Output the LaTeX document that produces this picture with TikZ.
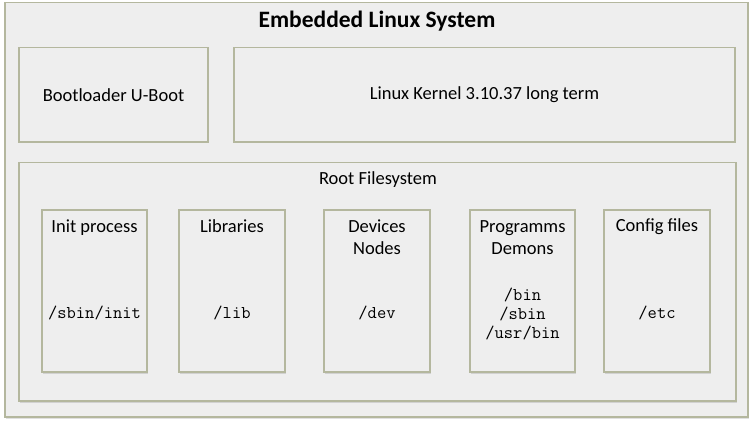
\documentclass[tikz,border=0pt]{standalone}
\usepackage{fontspec}
\setmainfont{Carlito}
\usetikzlibrary{shadows}
\definecolor{boxline}{HTML}{B4B79E}
\definecolor{boxfill}{HTML}{EEEEEE}
\begin{document}
\begin{tikzpicture}[x=1pt,y=-1pt,
  box/.style={draw=boxline,line width=1.6pt,fill=boxfill,rectangle,inner sep=0pt,
    drop shadow={shadow xshift=1.2pt,shadow yshift=-1.5pt,fill=black,opacity=0.12}},
  txt/.style={inner sep=0pt,align=center,font=\fontsize{18.5}{22}\selectfont},
  mono/.style={inner sep=0pt,align=center,font=\fontsize{18}{19}\selectfont\ttfamily}]
\useasboundingbox (0,0) rectangle (755,425);
\fill[white] (0,0) rectangle (755,425);
\node[box,minimum width=743pt,minimum height=414.5pt] (outer) at (376.5,209.75) {};
\node[box,minimum width=189pt,minimum height=94.5pt] (boot) at (113.5,94.75) {};
\node[box,minimum width=501pt,minimum height=94.5pt] (kern) at (484.5,94.75) {};
\node[box,minimum width=717pt,minimum height=238.5pt] (root) at (377.5,281.75) {};
\node[box,minimum width=105pt,minimum height=162pt] (init) at (94.5,291) {};
\node[box,minimum width=106pt,minimum height=162pt] (libs) at (232,291) {};
\node[box,minimum width=106pt,minimum height=162pt] (devs) at (377,291) {};
\node[box,minimum width=105pt,minimum height=162pt] (prog) at (522.5,291) {};
\node[box,minimum width=106pt,minimum height=162pt] (conf) at (657,291) {};

\node[txt,font=\fontsize{23.5}{28}\selectfont\bfseries] (title) at (377,21) {Embedded Linux System};
\node[txt] (boottxt) at (113.5,95) {Bootloader U-Boot};
\node[txt] (kerntxt) at (484.5,95) {Linux Kernel 3.10.37 long term};
\node[txt] (roottxt) at (378,179.5) {Root Filesystem};
\node[txt] (inittxt) at (94.5,227.5) {Init process};
\node[mono] (initp) at (94.5,313) {/sbin/init};
\node[txt] (libstxt) at (232,226) {Libraries};
\node[mono] (libsp) at (232,313) {/lib};
\node[txt] (devstxt) at (377,237) {Devices\\Nodes};
\node[mono] (devsp) at (377,313) {/dev};
\node[txt] (progtxt) at (522.5,238) {Programms\\Demons};
\node[mono] (progp) at (522.5,313.5) {/bin\\/sbin\\/usr/bin};
\node[txt] (conftxt) at (657,227) {Config files};
\node[mono] (confp) at (657,313) {/etc};
\end{tikzpicture}
\end{document}
